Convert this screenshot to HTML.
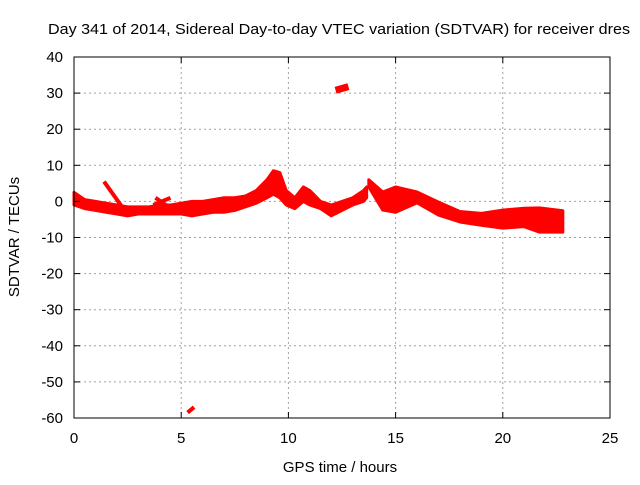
<!DOCTYPE html>
<html><head><meta charset="utf-8"><style>
body{margin:0;background:#fff}
svg text{font-family:"Liberation Sans",sans-serif;font-size:15px;fill:#000}
</style></head><body>
<svg id="c" width="640" height="480" xmlns="http://www.w3.org/2000/svg">
<text x="48" y="34" font-size="16" textLength="582" lengthAdjust="spacingAndGlyphs">Day 341 of 2014, Sidereal Day-to-day VTEC variation (SDTVAR) for receiver dres</text>
<text x="340" y="472" text-anchor="middle" font-size="16">GPS time / hours</text>
<text transform="translate(19,237) rotate(-90)" text-anchor="middle" font-size="16">SDTVAR / TECUs</text>
<g id="grid"></g><g id="marks"></g><g id="axes"></g>
</svg>
<script>
const xTicks=[0,5,10,15,20,25];
const yTicks=[40,30,20,10,0,-10,-20,-30,-40,-50,-60];
const seg1Hours=[0,0.5,1,1.5,2,2.5,3,3.5,4,4.5,5,5.5,6,6.5,7,7.5,8,8.5,9,9.3,9.6,9.9,10.3,10.7,11,11.5,12,12.5,13,13.5,13.65];
const seg1Upper=[2.5,0.5,0,-0.5,-1,-1.5,-1.5,-1.5,-1,-1,-0.5,0,0,0.5,1,1,1.5,3,6,8.5,8,3,1,4,3,0,-1,0,1,3,4];
const seg1Lower=[-1,-2,-2.5,-3,-3.5,-4,-3.5,-3.5,-3.5,-3.5,-3.5,-4,-3.5,-3,-3,-2.5,-1.5,-0.5,1,2,1,-1,-2,0,-1,-2,-4,-2.5,-1,0,1];
const seg2Hours=[13.75,14.4,15,16,17,18,19,20,21,21.7,22.8];
const seg2Upper=[6,2.6,4,2.6,-0.2,-2.8,-3.3,-2.4,-1.9,-1.8,-2.6];
const seg2Lower=[4,-2.4,-3,-0.4,-3.8,-5.7,-6.6,-7.4,-7,-8.5,-8.5];
const strokeX1=[1.4,3.7,3.8,12.2,5.3];
const strokeY1=[5.5,-1,1,30.8,-58.5];
const strokeX2=[2.3,4.5,4.4,12.8,5.6];
const strokeY2=[-2,1,-1.5,31.8,-57];
const strokeW=[4,4,4,7,4];
const X0=74,X1=610,Y0=57,Y1=418;
const sx=v=>X0+(v-0)/25*(X1-X0);
const sy=v=>Y0+(40-v)/100*(Y1-Y0);
const NS="http://www.w3.org/2000/svg";
function mk(t,p,a){const e=document.createElementNS(NS,t);for(const k in a)e.setAttribute(k,a[k]);p.appendChild(e);return e;}
const grid=document.getElementById('grid'),axes=document.getElementById('axes'),marks=document.getElementById('marks');
xTicks.forEach(t=>{const x=sx(t);
 if(t>0&&t<25){const l=mk('line',grid,{x1:x,x2:x,y1:Y0,y2:Y1,stroke:'#a0a0a0','stroke-dasharray':'2,3'});
 
 }
 mk('line',axes,{x1:x,x2:x,y1:Y1,y2:Y1-6,stroke:'#000'});mk('line',axes,{x1:x,x2:x,y1:Y0,y2:Y0+6,stroke:'#000'});
 const tx=mk('text',axes,{x:x,y:Y1+25,'text-anchor':'middle'});tx.textContent=t;
 
 });
yTicks.forEach(t=>{const y=sy(t);
 if(t<40&&t>-60){const l=mk('line',grid,{x1:X0,x2:X1,y1:y,y2:y,stroke:'#a0a0a0','stroke-dasharray':'2,3'});
 
 }
 mk('line',axes,{x1:X0,x2:X0+6,y1:y,y2:y,stroke:'#000'});mk('line',axes,{x1:X1,x2:X1-6,y1:y,y2:y,stroke:'#000'});
 const tx=mk('text',axes,{x:X0-11,y:y+5,'text-anchor':'end'});tx.textContent=t;
 
 });
const fr=mk('rect',axes,{x:X0,y:Y0,width:X1-X0,height:Y1-Y0,fill:'none',stroke:'#000'});


function band(H,U,L,name){let pts=H.map((h,i)=>sx(h)+','+sy(U[i]));
 for(let i=H.length-1;i>=0;i--)pts.push(sx(H[i])+','+sy(L[i]));
 const p=mk('polygon',marks,{points:pts.join(' '),fill:'#ff0000',stroke:'#ff0000','stroke-width':3,'stroke-linejoin':'round'});
 
 }
band(seg1Hours,seg1Upper,seg1Lower,'sdtvar-band-1');
band(seg2Hours,seg2Upper,seg2Lower,'sdtvar-band-2');
strokeX1.forEach((x,i)=>{const l=mk('line',marks,{x1:sx(x),y1:sy(strokeY1[i]),x2:sx(strokeX2[i]),y2:sy(strokeY2[i]),stroke:'#ff0000','stroke-width':strokeW[i]});
 
 });
</script>
</body></html>
